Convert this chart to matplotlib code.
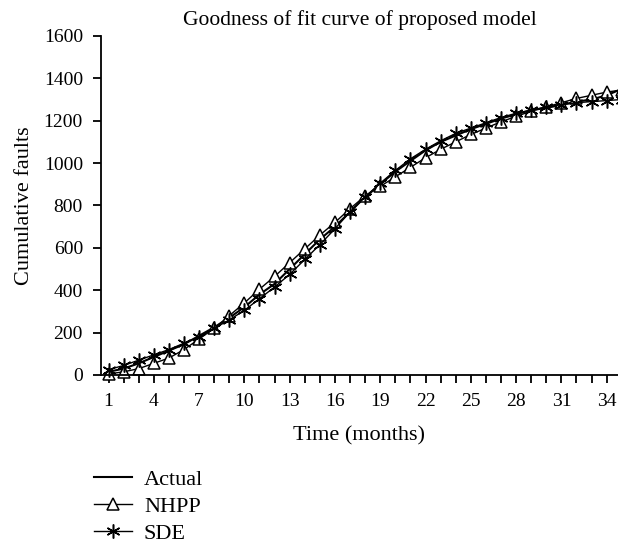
import matplotlib
matplotlib.use("Agg")
import matplotlib.pyplot as plt
from matplotlib.ticker import MultipleLocator, FixedLocator

plt.rcParams['font.family'] = ['Liberation Serif', 'DejaVu Serif']

months = list(range(1, 36))
actual = [15, 30, 55, 85, 115, 145, 185, 225, 270, 320,
          380, 430, 500, 570, 640, 700, 770, 840, 900, 960,
          1010, 1060, 1100, 1130, 1160, 1185, 1210, 1230, 1250, 1260,
          1275, 1290, 1300, 1320, 1350]
nhpp = [5, 15, 30, 55, 80, 120, 170, 220, 280, 340,
        405, 465, 530, 595, 660, 720, 785, 845, 890, 935,
        980, 1025, 1065, 1100, 1135, 1165, 1195, 1220, 1245, 1265,
        1285, 1305, 1320, 1335, 1345]
sde = [25, 45, 70, 95, 120, 150, 180, 220, 260, 305,
       360, 415, 475, 545, 615, 690, 770, 840, 905, 965,
       1020, 1065, 1105, 1140, 1165, 1190, 1215, 1235, 1250, 1265,
       1275, 1285, 1290, 1295, 1300]
xtick_labels = [1, 4, 7, 10, 13, 16, 19, 22, 25, 28, 31, 34]

fig = plt.figure(figsize=(6.18, 5.46), dpi=100)
ax = fig.add_axes([0.1634, 0.3132, 0.8366, 0.621])

ax.plot(months, actual, color='black', lw=1.5, label='Actual', clip_on=False)
ax.plot(months, nhpp, color='black', lw=1, marker='^', ms=8, mfc='white',
        mec='black', mew=1.1, label='NHPP', clip_on=False)
ax.plot(months, sde, color='black', lw=1, marker=(6, 2, 0), ms=10,
        mec='black', mew=1.1, label='SDE', clip_on=False)

ax.set_xlim(0.5, 34.75)
ax.set_ylim(0, 1600)
ax.xaxis.set_major_locator(FixedLocator(xtick_labels))
ax.xaxis.set_minor_locator(MultipleLocator(1))
ax.yaxis.set_major_locator(MultipleLocator(200))
ax.spines['top'].set_visible(False)
ax.spines['right'].set_visible(False)
for s in ('left', 'bottom'):
    ax.spines[s].set_linewidth(1.3)
ax.tick_params(which='both', direction='out', length=6, width=1.3, labelsize=14)
ax.tick_params(axis='x', which='both', pad=7)
ax.tick_params(axis='y', pad=7)

ax.set_xlabel('Time (months)', fontsize=16, labelpad=12)
ax.set_ylabel('Cumulative faults', fontsize=16, labelpad=7)
ax.set_title('Goodness of fit curve of proposed model', fontsize=15.5, pad=8)

fig.legend(loc='upper left', bbox_to_anchor=(0.152, 0.140), frameon=False,
           fontsize=16, handlelength=1.7, labelspacing=0.28, borderpad=0,
           borderaxespad=0, handletextpad=0.55)

fig.savefig('out.png', dpi=100)
